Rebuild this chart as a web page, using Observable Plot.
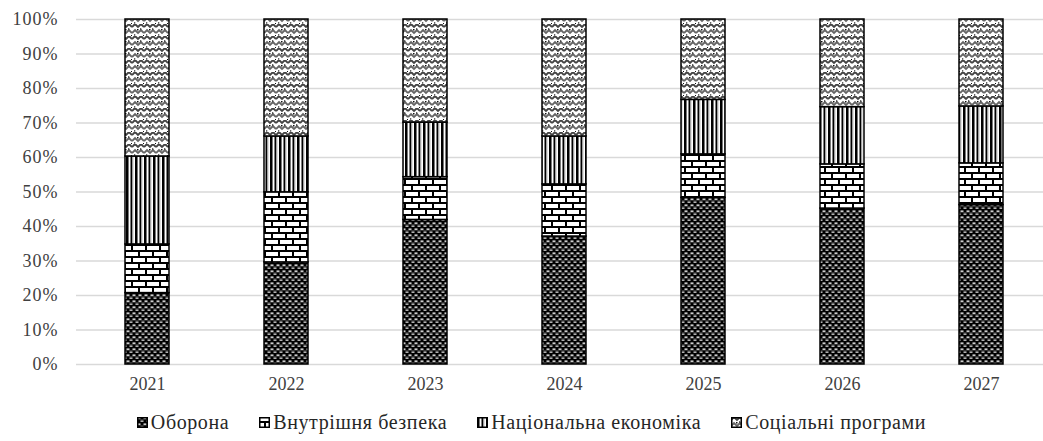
<!DOCTYPE html>
<html>
<head>
<meta charset="utf-8">
<script src="https://cdn.jsdelivr.net/npm/d3@7"></script>
<script src="https://cdn.jsdelivr.net/npm/@observablehq/plot@0.6"></script>
<style>
  body { margin: 0; background: #fff; font-family: "Liberation Serif", "DejaVu Serif", serif; }
  #chart svg { display: block; }
  .legend { display: flex; justify-content: center; align-items: center; gap: 30px; margin-top: 13px; padding-left: 20px; font-size: 20px; letter-spacing: 0.6px; color: #262626; font-family: "Liberation Serif", "DejaVu Serif", serif; }
  .legend .item { display: flex; align-items: center; gap: 3px; }
  .legend svg { display: block; }
</style>
</head>
<body>
<svg width="0" height="0" style="position:absolute">
  <defs>
    <pattern id="pDef" patternUnits="userSpaceOnUse" width="6" height="6">
      <rect width="6" height="6" fill="#000"/>
      <rect x="0.5" y="0.5" width="3" height="1.3" fill="#fff"/>
      <rect x="3.5" y="3.5" width="3" height="1.3" fill="#ddd"/>
      <rect x="-2.5" y="3.5" width="3" height="1.3" fill="#ddd"/>
      <rect x="0" y="2.3" width="6" height="0.6" fill="#555"/>
    </pattern>
    <pattern id="pSec" patternUnits="userSpaceOnUse" width="14" height="12">
      <rect width="14" height="12" fill="#000"/>
      <rect x="0" y="0" width="12" height="4" fill="#fff"/>
      <rect x="-7" y="6" width="12" height="4" fill="#fff"/>
      <rect x="7" y="6" width="12" height="4" fill="#fff"/>
    </pattern>
    <pattern id="pEco" patternUnits="userSpaceOnUse" width="9" height="4">
      <rect width="9" height="4" fill="#fff"/>
      <rect x="0" width="2" height="4" fill="#000"/>
      <rect x="2" width="1" height="4" fill="#777"/>
      <rect x="4.5" width="1.8" height="4" fill="#000"/>
      <rect x="6.3" width="1" height="4" fill="#999"/>
    </pattern>
    <pattern id="pSoc" patternUnits="userSpaceOnUse" width="12" height="12">
      <rect width="12" height="12" fill="#fff"/>
      <path d="M0,3 L3,0 L6,3 L9,0 L12,3" fill="none" stroke="#444" stroke-width="1.9"/>
      <path d="M0,9 L3,6 L6,9 L9,6 L12,9" fill="none" stroke="#666" stroke-width="1.9"/>
      <rect x="5" y="5" width="1.5" height="1.5" fill="#111"/>
      <rect x="11" y="11" width="1.5" height="1.5" fill="#111"/>
      <rect x="2" y="10.3" width="1.3" height="1.3" fill="#222"/>
      <rect x="8" y="4.3" width="1.3" height="1.3" fill="#222"/>
    </pattern>
  </defs>
</svg>
<div id="chart"></div>
<div class="legend" id="legend"></div>
<script>
const years = ["2021", "2022", "2023", "2024", "2025", "2026", "2027"];
const categories = ["Оборона", "Внутрішня безпека", "Національна економіка", "Соціальні програми"];
const defense  = [20.7, 29.6, 41.9, 37.1, 48.3, 45.2, 46.2];
const security = [14.1, 20.3, 12.4, 15.1, 12.6, 12.8, 12.1];
const economy  = [25.5, 16.2, 15.8, 13.9, 15.8, 16.6, 16.5];
const social   = [39.7, 33.9, 29.9, 33.9, 23.3, 25.4, 25.2];
const yTicks = [0, 10, 20, 30, 40, 50, 60, 70, 80, 90, 100];
const patterns = ["url(#pDef)", "url(#pSec)", "url(#pEco)", "url(#pSoc)"];

const series = [defense, security, economy, social];
const data = [];
years.forEach((yr, i) => {
  categories.forEach((c, k) => data.push({year: yr, category: c, value: series[k][i]}));
});

const chart = Plot.plot({
  width: 1043,
  height: 398,
  marginLeft: 76,
  marginRight: 0,
  marginTop: 19,
  marginBottom: 34,
  style: {fontFamily: "Liberation Serif, DejaVu Serif, serif", fontSize: "18px", color: "#404040", background: "#fff"},
  x: {type: "band", domain: years, range: [76.4, 1051.4], paddingInner: 0.684, paddingOuter: 0.342, align: 0.5, label: null},
  y: {domain: [0, 100], label: null},
  color: {type: "ordinal", domain: categories, range: patterns},
  marks: [
    Plot.ruleY(yTicks, {stroke: "#d9d9d9", strokeWidth: 1.6}),
    Plot.barY(data, {x: "year", y: "value", fill: "category", stroke: "#000", strokeWidth: 1.5}),
    Plot.axisY({ticks: yTicks, tickSize: 0, tickPadding: 18, tickFormat: d => d + "%", fill: "#404040", fontSize: 18, label: null}),
    Plot.axisX({tickSize: 0, tickPadding: 13, fill: "#404040", fontSize: 18, label: null})
  ]
});
document.getElementById("chart").appendChild(chart);
d3.select(chart).selectAll("g[aria-label='y-axis tick label'] text").attr("letter-spacing", "1px");

const legend = document.getElementById("legend");
categories.forEach((c, k) => {
  const item = document.createElement("div");
  item.className = "item";
  item.innerHTML = `<svg width="11" height="11"><rect x="0.75" y="0.75" width="9.5" height="9.5" fill="${patterns[k]}" stroke="#000" stroke-width="1.5"/></svg><span>${c}</span>`;
  legend.appendChild(item);
});
</script>
</body>
</html>
